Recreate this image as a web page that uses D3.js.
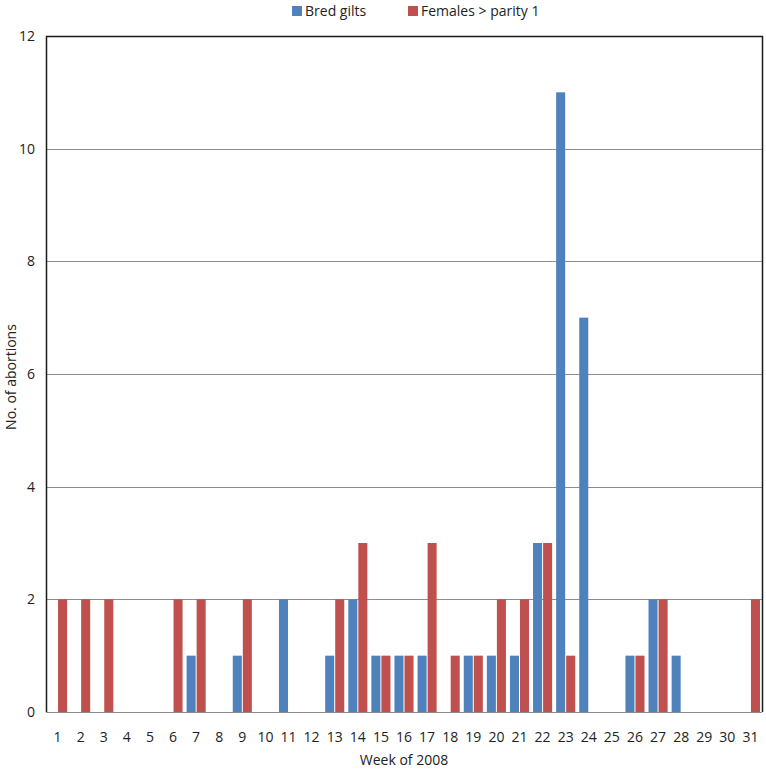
<!DOCTYPE html>
<html>
<head>
<meta charset="utf-8">
<script src="https://cdn.jsdelivr.net/npm/d3@7"></script>
<style>
  body { margin: 0; background: #fff; }
  svg { display: block; font-family: "Open Sans", "Noto Sans", sans-serif; }
</style>
</head>
<body>
<svg id="chart" width="766" height="769"></svg>
<script>
// Weeks of 2008 and abortion counts
var weeks = d3.range(1, 32);
var bredGilts = [0, 0, 0, 0, 0, 0, 1, 0, 1, 0, 2, 0, 1, 2, 1, 1, 1, 0, 1, 1, 1, 3, 11, 7, 0, 1, 2, 1, 0, 0, 0];
var femalesParity = [2, 2, 2, 0, 0, 2, 2, 0, 2, 0, 0, 0, 2, 3, 1, 1, 3, 1, 1, 2, 2, 3, 1, 0, 0, 1, 2, 0, 0, 0, 2];
var seriesNames = ['Bred gilts', 'Females > parity 1'];
var seriesColors = ['#4f81bd', '#c0504d'];
var yTicks = [0, 2, 4, 6, 8, 10, 12];

var svg = d3.select('#chart');
var plotLeft = 46, plotRight = 762, plotTop = 36, plotBottom = 712;

var x = d3.scaleBand().domain(weeks).range([plotLeft, plotRight]).paddingInner(0).paddingOuter(0);
var xInner = d3.scaleBand().domain([0, 1]).range([0, x.bandwidth()]).paddingInner(0.1).paddingOuter(0.2);
var y = d3.scaleLinear().domain([0, 12]).range([plotBottom, plotTop]);

// Gridlines
svg.append('g')
    .selectAll('line')
    .data(yTicks.slice(1, -1))
    .enter().append('line')
    .attr('x1', plotLeft).attr('x2', plotRight)
    .attr('y1', function (d) { return Math.round(y(d)) + 0.5; })
    .attr('y2', function (d) { return Math.round(y(d)) + 0.5; })
    .attr('stroke', '#8c8c8c').attr('stroke-width', 1);

// Bars
var rows = weeks.map(function (w, i) { return { week: w, values: [bredGilts[i], femalesParity[i]] }; });
var groups = svg.append('g').selectAll('g')
    .data(rows)
    .enter().append('g')
    .attr('transform', function (d) { return 'translate(' + x(d.week) + ',0)'; });
groups.selectAll('rect')
    .data(function (d) { return d.values.map(function (v, k) { return { k: k, v: v }; }); })
    .enter().append('rect')
    .attr('x', function (d) { return xInner(d.k); })
    .attr('width', xInner.bandwidth())
    .attr('y', function (d) { return y(d.v); })
    .attr('height', function (d) { return plotBottom - y(d.v); })
    .attr('fill', function (d) { return seriesColors[d.k]; });

// Frame: baseline gray, other sides dark
svg.append('line')
    .attr('x1', plotLeft).attr('x2', plotRight).attr('y1', plotBottom + 0.5).attr('y2', plotBottom + 0.5)
    .attr('stroke', '#8c8c8c').attr('stroke-width', 1.2);
svg.append('path')
    .attr('d', 'M' + (plotLeft + 0.5) + ',' + plotBottom + 'V' + (plotTop + 0.5) + 'H' + (plotRight + 0.5) + 'V' + plotBottom)
    .attr('fill', 'none').attr('stroke', '#1a1a1a').attr('stroke-width', 1.5);

// Y tick labels
svg.append('g')
    .selectAll('text')
    .data(yTicks)
    .enter().append('text')
    .attr('x', 35)
    .attr('y', function (d) { return y(d); })
    .attr('dy', '0.35em')
    .attr('text-anchor', 'end')
    .attr('font-size', 14)
    .attr('fill', '#222')
    .text(function (d) { return d; });

// X tick labels
svg.append('g')
    .selectAll('text')
    .data(weeks)
    .enter().append('text')
    .attr('x', function (d) { return x(d) + x.bandwidth() / 2; })
    .attr('y', 737)
    .attr('dy', '0.35em')
    .attr('text-anchor', 'middle')
    .attr('font-size', 14)
    .attr('fill', '#222')
    .text(function (d) { return d; });

// Axis titles
svg.append('text')
    .attr('x', (plotLeft + plotRight) / 2)
    .attr('y', 760)
    .attr('dy', '0.35em')
    .attr('text-anchor', 'middle')
    .attr('font-size', 14)
    .attr('fill', '#222')
    .text('Week of 2008');
svg.append('text')
    .attr('transform', 'translate(11,377) rotate(-90)')
    .attr('dy', '0.35em')
    .attr('text-anchor', 'middle')
    .attr('font-size', 14)
    .attr('fill', '#222')
    .text('No. of abortions');

// Legend
var legendX = [292, 408];
var legend = svg.append('g').selectAll('g')
    .data(seriesNames)
    .enter().append('g')
    .attr('transform', function (d, i) { return 'translate(' + legendX[i] + ',11)'; });
legend.append('rect')
    .attr('x', 0).attr('y', -5).attr('width', 10).attr('height', 10)
    .attr('fill', function (d, i) { return seriesColors[i]; });
legend.append('text')
    .attr('x', 13)
    .attr('dy', '0.35em')
    .attr('font-size', 14)
    .attr('fill', '#222')
    .text(function (d) { return d; });
</script>
</body>
</html>
